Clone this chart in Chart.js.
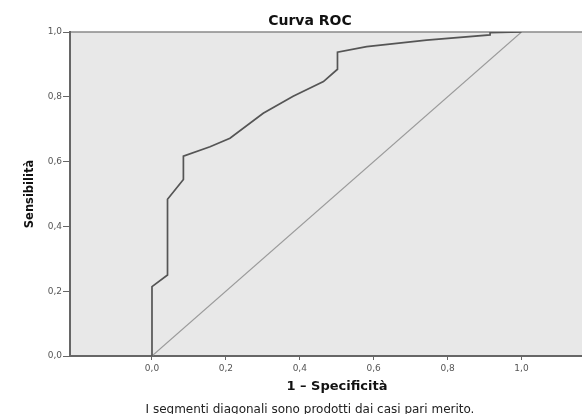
<!DOCTYPE html>
<html>
<head>
<meta charset="utf-8">
<script src="https://cdn.jsdelivr.net/npm/chart.js@4/dist/chart.umd.min.js"></script>
<style>
  html, body { margin: 0; padding: 0; background: #fff; overflow: hidden; }
  #wrap { position: relative; width: 620px; height: 417px; }
</style>
</head>
<body>
<div id="wrap"><canvas id="rocChart"></canvas></div>
<script>
// ROC curve (1 - specificity, sensitivity)
const fprValues = [0, 0, 0.042, 0.042, 0.085, 0.085, 0.157, 0.211, 0.301, 0.382, 0.464, 0.502, 0.502, 0.581, 0.743, 0.915, 0.915, 1.0];
const tprValues = [0, 0.214, 0.25, 0.484, 0.545, 0.617, 0.646, 0.672, 0.749, 0.802, 0.847, 0.885, 0.938, 0.955, 0.975, 0.991, 0.998, 1.0];

// reference diagonal
const refX = [0, 1];
const refY = [0, 1];

// tick labels
const xTicks = [0, 0.2, 0.4, 0.6, 0.8, 1.0];
const yTicks = [0, 0.2, 0.4, 0.6, 0.8, 1.0];

const fmt = v => v.toFixed(1).replace('.', ',');

//Grey plot background + top frame line
const plotBackground = {
    id: 'plotBackground',
    beforeDraw(chart) {
        const {ctx, chartArea: a} = chart;
        ctx.save();
        ctx.fillStyle = '#e8e8e8';
        ctx.fillRect(a.left, a.top, a.right - a.left, a.bottom - a.top);
        ctx.strokeStyle = '#8a8a8a';
        ctx.lineWidth = 1.5;
        ctx.beginPath();
        ctx.moveTo(a.left, a.top);
        ctx.lineTo(a.right, a.top);
        ctx.stroke();
        ctx.restore();
    }
};

const rocData = {
    datasets: [{
        label: 'ROC',
        data: fprValues.map((x, i) => ({x: x, y: tprValues[i]})),
        borderColor: '#555555',
        borderWidth: 1.7,
        showLine: true,
        pointRadius: 0,
        tension: 0
    },
    {
        label: 'Diagonale',
        data: refX.map((x, i) => ({x: x, y: refY[i]})),
        borderColor: '#9a9a9a',
        borderWidth: 1.1,
        showLine: true,
        pointRadius: 0,
        tension: 0
    }]
};

const rocConfig = {
    type: 'scatter',
    data: rocData,
    plugins: [plotBackground],
    options: {
        responsive: true,
        maintainAspectRatio: false,
        animation: false,
        layout: { padding: {left: 16, right: 16, top: 0, bottom: 0} },
        plugins: {
            legend: { display: false },
            tooltip: { enabled: false },
            title: {
                display: true,
                text: 'Curva ROC',
                color: '#111',
                font: {family: 'DejaVu Sans', size: 14, weight: 'bold', lineHeight: 1.2},
                padding: {top: 13.2, bottom: 2}
            },
            subtitle: {
                display: true,
                position: 'bottom',
                text: 'I segmenti diagonali sono prodotti dai casi pari merito.',
                color: '#222',
                font: {family: 'DejaVu Sans', size: 12, lineHeight: 1.2},
                padding: {top: 2.6, bottom: 0}
            }
        },
        scales: {
            x: {
                type: 'linear',
                min: -0.2219,
                max: 1.2233,
                afterBuildTicks: s => { s.ticks = xTicks.map(v => ({value: v})); },
                afterFit: s => { s.height = 44; },
                ticks: {
                    callback: v => fmt(v),
                    color: '#555',
                    font: {family: 'DejaVu Sans', size: 9},
                    padding: 3,
                    maxRotation: 0
                },
                grid: { drawOnChartArea: false, drawTicks: true, tickLength: 4, color: '#666' },
                border: { color: '#666', width: 2 },
                title: {
                    display: true,
                    text: '1 – Specificità',
                    color: '#111',
                    font: {family: 'DejaVu Sans', size: 13, weight: 'bold', lineHeight: 1.2},
                    padding: {top: 0, bottom: 5.5}
                }
            },
            y: {
                type: 'linear',
                min: 0,
                max: 1,
                afterBuildTicks: s => { s.ticks = yTicks.map(v => ({value: v})); },
                afterFit: s => { s.width = 54; },
                ticks: {
                    callback: v => fmt(v),
                    color: '#555',
                    font: {family: 'DejaVu Sans', size: 9},
                    padding: 1
                },
                grid: { drawOnChartArea: false, drawTicks: true, tickLength: 7, color: '#666' },
                border: { color: '#666', width: 2 },
                title: {
                    display: true,
                    text: 'Sensibilità',
                    color: '#111',
                    font: {family: 'DejaVu Sans', size: 11.5, weight: 'bold', lineHeight: 1.2},
                    padding: {top: 7, bottom: 0}
                }
            }
        }
    }
};

var rocChart = new Chart(document.getElementById('rocChart'), rocConfig);
</script>
</body>
</html>
